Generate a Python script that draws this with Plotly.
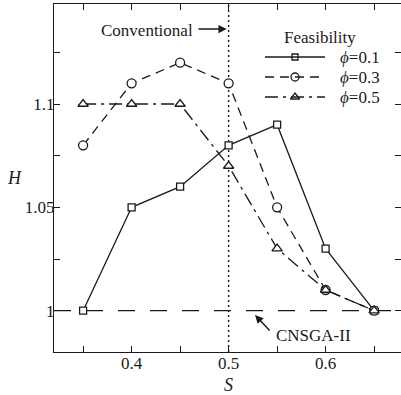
import plotly.graph_objects as go

# Step size S and normalized hypervolume H for three feasibility levels
s_values = [0.35, 0.40, 0.45, 0.50, 0.55, 0.60, 0.65]
h_phi_01 = [1.00, 1.05, 1.06, 1.08, 1.09, 1.03, 1.00]
h_phi_03 = [1.08, 1.11, 1.12, 1.11, 1.05, 1.01, 1.00]
h_phi_05 = [1.10, 1.10, 1.10, 1.07, 1.03, 1.01, 1.00]
series_names = ["<i>ϕ</i>=0.1", "<i>ϕ</i>=0.3", "<i>ϕ</i>=0.5"]

baseline_h = 1.0          # CNSGA-II reference level
conventional_s = 0.5      # conventional step size

x_tick_vals = [0.35, 0.40, 0.45, 0.50, 0.55, 0.60, 0.65]
x_tick_text = ["", "0.4", "", "0.5", "", "0.6", ""]
y_tick_vals = [1.0, 1.025, 1.05, 1.075, 1.1, 1.125]
y_tick_text = ["1", "", "1.05", "", "1.1", ""]

x_range = [0.32, 0.6777]
y_range = [0.98, 1.1484]

FONT = "Liberation Serif"
INK = "#1a1a1a"
LW = 1.3
W, H = 401, 395
M_L, M_R, M_T, M_B = 54, 0, 4, 43

series_styles = [
    dict(dash="solid", symbol="square", size=7),
    dict(dash="9px,6px", symbol="circle", size=9),
    dict(dash="13px,5px,3px,5px", symbol="triangle-up", size=9),
]

fig = go.Figure()

for vals, st, name in zip([h_phi_01, h_phi_03, h_phi_05], series_styles, series_names):
    fig.add_trace(go.Scatter(
        x=s_values, y=vals, name=name, mode="lines+markers",
        line=dict(color=INK, width=LW, dash=st["dash"]),
        marker=dict(symbol=st["symbol"], size=st["size"], color="white",
                    line=dict(color=INK, width=LW)),
        hoverinfo="skip", showlegend=False,
    ))

# CNSGA-II baseline and conventional step size
fig.add_hline(y=baseline_h, line=dict(color=INK, width=LW, dash="17px,15px"), layer="below")
fig.add_vline(x=conventional_s, line=dict(color=INK, width=1.4, dash="2px,3px"), layer="below")

# helper trace that brings the mirrored top/right axes into existence
fig.add_trace(go.Scatter(x=s_values, y=h_phi_01, xaxis="x2", yaxis="y2",
                         mode="lines", opacity=0, showlegend=False,
                         hoverinfo="skip"))

# ---- hand-built legend on a pixel-unit overlay axis (x3/y3) ----
LEG_LINE_X0, LEG_LINE_X1 = 265, 325
LEG_TEXT_X = 338
LEG_TITLE_X, LEG_TITLE_Y = 320, 37
LEG_ROW_Y = [57, 77, 97]
for st, name, ry in zip(series_styles, series_names, LEG_ROW_Y):
    fig.add_shape(type="line", xref="x3", yref="y3",
                  x0=LEG_LINE_X0, x1=LEG_LINE_X1, y0=ry, y1=ry,
                  line=dict(color=INK, width=LW, dash=st["dash"]))
    fig.add_trace(go.Scatter(
        x=[(LEG_LINE_X0 + LEG_LINE_X1) / 2], y=[ry], xaxis="x3", yaxis="y3",
        mode="markers", showlegend=False, hoverinfo="skip",
        marker=dict(symbol=st["symbol"], size=st["size"] - 1, color="white",
                    line=dict(color=INK, width=LW)),
    ))
    fig.add_annotation(x=LEG_TEXT_X, y=ry, xref="x3", yref="y3", text=name,
                       showarrow=False, xanchor="left",
                       font=dict(family=FONT, size=17))
fig.add_annotation(x=LEG_TITLE_X, y=LEG_TITLE_Y, xref="x3", yref="y3",
                   text="Feasibility", showarrow=False,
                   font=dict(family=FONT, size=17))

tick_common = dict(ticks="inside", ticklen=6, tickwidth=LW, tickcolor=INK,
                   showgrid=False, zeroline=False)

fig.update_layout(
    width=W, height=H,
    margin=dict(l=M_L, r=M_R, t=M_T, b=M_B),
    paper_bgcolor="white", plot_bgcolor="white",
    font=dict(family=FONT, size=17, color=INK),
    showlegend=False,
    xaxis=dict(range=x_range, tickvals=x_tick_vals, ticktext=x_tick_text,
               showline=True, linecolor=INK, linewidth=LW, mirror=False,
               ticklabelstandoff=-5, tickfont=dict(size=17), **tick_common),
    yaxis=dict(range=y_range, tickvals=y_tick_vals, ticktext=y_tick_text,
               showline=True, linecolor=INK, linewidth=LW, mirror=False,
               ticklabelstandoff=-5, tickfont=dict(size=17), **tick_common),
    xaxis2=dict(range=x_range, tickvals=x_tick_vals, showticklabels=False,
                overlaying="x", side="top", anchor="y2",
                showline=True, linecolor=INK, linewidth=LW, **tick_common),
    yaxis2=dict(range=y_range, tickvals=y_tick_vals, showticklabels=False,
                overlaying="y", side="right", anchor="x2",
                showline=False, **tick_common),
    xaxis3=dict(range=[M_L, W - M_R], overlaying="x", visible=False,
                fixedrange=True, anchor="y3"),
    yaxis3=dict(range=[H - M_B, M_T], overlaying="y", visible=False,
                fixedrange=True, anchor="x3"),
)

# axis titles
fig.add_annotation(x=conventional_s, y=-0.06, xref="x", yref="paper",
                   text="<i>S</i>", showarrow=False, yanchor="top",
                   font=dict(family=FONT, size=18))
fig.add_annotation(x=-0.14, y=0.5, xref="paper", yref="paper",
                   text="<i>H</i>", showarrow=False,
                   font=dict(family=FONT, size=18))

# "Conventional" callout
fig.add_annotation(x=0.4154, y=1.1358, xref="x", yref="y", text="Conventional",
                   showarrow=False, font=dict(family=FONT, size=17))
fig.add_annotation(x=conventional_s - 0.002, y=1.1363, xref="x", yref="y",
                   ax=0.4674, ay=1.1363, axref="x", ayref="y", text="",
                   showarrow=True, arrowhead=2, arrowsize=1.1, arrowwidth=1.5,
                   arrowcolor=INK)

# "CNSGA-II" callout
fig.add_annotation(x=0.588, y=0.9882, xref="x", yref="y", text="CNSGA-II",
                   showarrow=False, font=dict(family=FONT, size=17))
fig.add_annotation(x=0.5272, y=0.9979, xref="x", yref="y",
                   ax=0.5437, ay=0.9897, axref="x", ayref="y", text="",
                   showarrow=True, arrowhead=2, arrowsize=1.1, arrowwidth=1.5,
                   arrowcolor=INK)

fig.write_html("out.html")
